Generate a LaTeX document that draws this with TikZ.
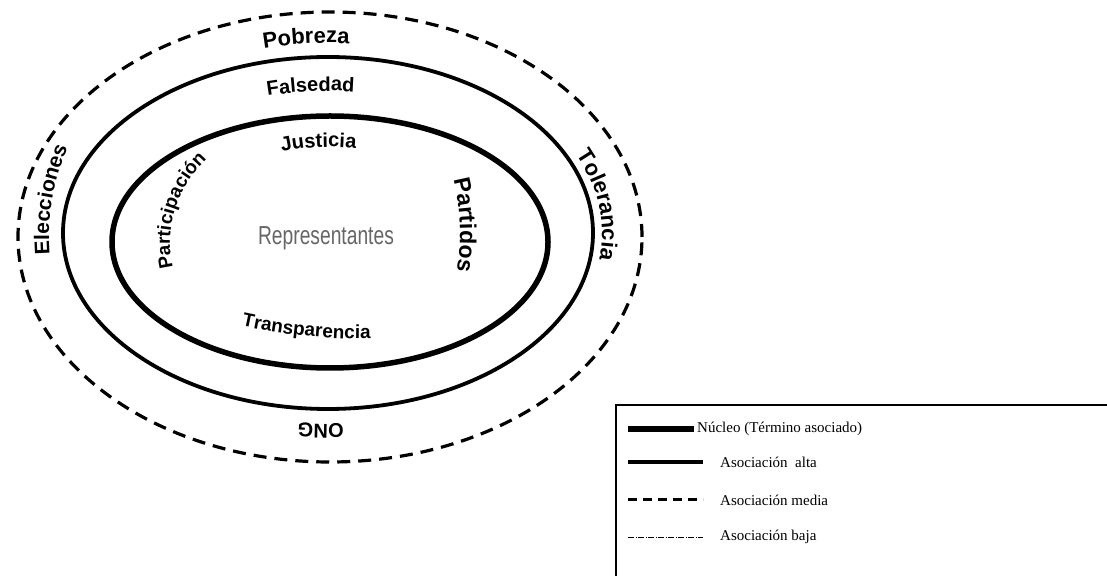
\documentclass[tikz,border=0pt]{standalone}
\usepackage{fontspec}
\setmainfont{Liberation Serif}
\newfontfamily\curvefont{Liberation Sans}
\newfontfamily\repfont[FakeStretch=0.74]{Liberation Sans}
\usetikzlibrary{positioning}
\usetikzlibrary{decorations.text}
\tikzset{
  nucleo/.style={line width=5.5pt},
  alta/.style={line width=3.8pt},
  media/.style={line width=3.2pt, dash pattern=on 13pt off 8pt},
  baja/.style={line width=0.8pt, dash pattern=on 6pt off 1.5pt on 1pt off 1.5pt},
  curvetext/.style={decoration={text along path, text align=center, text={#1}}, decorate},
  legendtext/.style={font=\fontsize{15}{17}\selectfont, inner sep=0pt},
}

\begin{document}
\begin{tikzpicture}[x=1pt,y=1pt]
  \useasboundingbox (0,0) rectangle (1107,575);
  \coordinate (Cout) at (330,338);
  \coordinate (Cmid) at (328,342);
  \coordinate (Cin) at (330,333);
  \draw[media] (Cout) ellipse [x radius=312, y radius=225];% Asociacion media
  \draw[alta] (Cmid) ellipse [x radius=265, y radius=176];% Asociacion alta
  \draw[nucleo] (Cin) ellipse [x radius=218, y radius=126];% Nucleo
  \node[text=black!60, font=\fontsize{26}{26}\repfont] (rep) at (326,337) {Representantes};
  % anillo exterior
  \path[curvetext={|\fontsize{22}{22}\curvefont\bfseries|Pobreza}]
    (Cout) ++(120:284 and 194) arc[start angle=120, end angle=70, x radius=284, y radius=194];
  \path[curvetext={|\fontsize{21}{21}\curvefont\bfseries|Elecciones}]
    (Cout) ++(222:281 and 250) arc[start angle=222, end angle=122, x radius=281, y radius=250];
  \path[curvetext={|\fontsize{22}{22}\curvefont\bfseries|Tolerancia}]
    (Cmid) ++(52:274 and 185) arc[start angle=52, end angle=-38, x radius=274, y radius=185];
  \path[curvetext={|\fontsize{20}{20}\curvefont\bfseries|ONG}]
    (Cout) ++(298:284 and 187) arc[start angle=298, end angle=238, x radius=284, y radius=187];
  % anillo medio
  \path[curvetext={|\fontsize{20}{20}\curvefont\bfseries|Falsedad}]
    (Cmid) ++(119:232 and 142) arc[start angle=119, end angle=70, x radius=232, y radius=142];
  % nucleo
  \path[curvetext={|\fontsize{20}{20}\curvefont\bfseries|Justicia}]
    (Cin) ++(135:150 and 95) arc[start angle=135, end angle=55, x radius=150, y radius=95];
  \path[curvetext={|\fontsize{19}{19}\curvefont\bfseries|Participación}]
    (Cin) ++(217:160 and 130) arc[start angle=217, end angle=117, x radius=160, y radius=130];
  \path[curvetext={|\fontsize{23}{23}\curvefont\bfseries|Partidos}]
    (330,342) ++(43:130 and 170) arc[start angle=43, end angle=-37, x radius=130, y radius=170];
  \path[curvetext={|\fontsize{19}{19}\curvefont\bfseries|Transparencia}]
    (367,333) ++(200:250 and 97) arc[start angle=200, end angle=300, x radius=250, y radius=97];
  % leyenda
  \draw[line width=1.8pt] (616,-10) rectangle (1120,170);
  \coordinate (a1) at (628,146); \coordinate (b1) at (694,146);
  \coordinate (a2) at (628,113); \coordinate (b2) at (703,113);
  \coordinate (a3) at (628,75);  \coordinate (b3) at (703,75);
  \coordinate (a4) at (628,38);  \coordinate (b4) at (703,38);
  \draw[nucleo] (a1) -- (b1);
  \draw[alta] (a2) -- (b2);
  \draw[line width=3pt, dash pattern=on 9pt off 6pt] (a3) -- (b3);
  \draw[baja] (a4) -- (b4);
  \node[legendtext, right=3pt of b1] (l1) {Núcleo (Término asociado)};
  \node[legendtext, right=17pt of b2] (l2) {Asociación\ \ alta};
  \node[legendtext, right=17pt of b3] (l3) {Asociación media};
  \node[legendtext, right=17pt of b4] (l4) {Asociación baja};
\end{tikzpicture}
\end{document}
